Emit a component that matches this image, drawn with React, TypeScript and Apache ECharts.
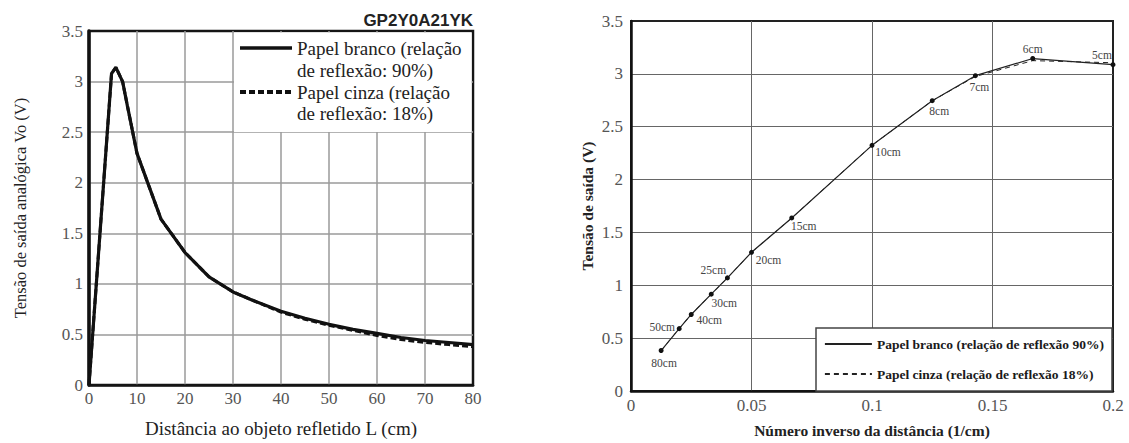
import React, { useEffect, useRef } from "react";
import * as echarts from "echarts";

// ---------- Left chart: distance (cm) vs analog output voltage (V) ----------
const distanceCm = [0, 4.7, 5.6, 7, 8, 10, 15, 20, 25, 30, 35, 40, 45, 50, 55, 60, 65, 70, 75, 80];
const whiteVoltage = [0, 3.08, 3.14, 3.0, 2.76, 2.29, 1.64, 1.31, 1.07, 0.92, 0.82, 0.73, 0.66, 0.6, 0.55, 0.51, 0.47, 0.44, 0.42, 0.4];
const grayVoltage = [0, 3.08, 3.14, 3.0, 2.76, 2.29, 1.64, 1.31, 1.07, 0.92, 0.82, 0.72, 0.65, 0.59, 0.54, 0.49, 0.45, 0.42, 0.4, 0.38];
const leftTitle = "GP2Y0A21YK";
const leftLegendWhite = ["Papel branco (relação", "de reflexão: 90%)"];
const leftLegendGray = ["Papel cinza (relação", "de reflexão: 18%)"];

// ---------- Right chart: inverse distance (1/cm) vs output voltage (V) ----------
const pointLabels = ["80cm", "50cm", "40cm", "30cm", "25cm", "20cm", "15cm", "10cm", "8cm", "7cm", "6cm", "5cm"];
const inverseDistance = [0.0125, 0.02, 0.025, 0.0333, 0.04, 0.05, 0.0667, 0.1, 0.125, 0.1429, 0.1667, 0.2];
const whitePointV = [0.383, 0.59, 0.724, 0.916, 1.07, 1.312, 1.637, 2.324, 2.746, 2.983, 3.145, 3.087];
const grayPointV = [0.383, 0.59, 0.724, 0.916, 1.07, 1.312, 1.637, 2.324, 2.746, 2.975, 3.125, 3.105];
const rightWhiteName = "Papel branco (relação de reflexão 90%)";
const rightGrayName = "Papel cinza (relação de reflexão 18%)";

// label placement (style, not data)
const labelOffsets = [
  [3, 12], [-17, -2], [18, 6], [13, 9], [-14, -8], [17, 8],
  [12, 8], [16, 7], [7, 10], [4, 11], [0, -10], [-11, -10],
];

const SERIF = "Liberation Serif";
const SANS = "Liberation Sans";

// layout
const L = { left: 89, top: 31, width: 384, height: 355 };
const R = { left: 631, top: 21, width: 482, height: 377 };

export default function App() {
  const ref = useRef<HTMLDivElement>(null);

  useEffect(() => {
    if (!ref.current) return;
    const chart = echarts.init(ref.current, undefined, { renderer: "svg" });

    const leftWhiteData = distanceCm.map((d, i) => [d, whiteVoltage[i]]);
    const leftGrayData = distanceCm.map((d, i) => [d, grayVoltage[i]]);
    const rightWhiteData = inverseDistance.map((x, i) => ({
      value: [x, whitePointV[i]],
      label: { offset: labelOffsets[i] },
    }));
    const rightGrayData = inverseDistance.map((x, i) => [x, grayPointV[i]]);

    const legX = 234;
    const legRight = L.left + L.width - 1.5;
    const legLineX1 = 240;
    const legLineX2 = 292;
    const legTextX = 297;

    const option: any = {
      animation: false,
      backgroundColor: "#fff",
      title: {
        text: leftTitle,
        right: 1129 - (L.left + L.width),
        top: 12,
        padding: 0,
        textStyle: { fontFamily: SANS, fontWeight: "bold", fontSize: 17, color: "#222" },
      },
      grid: [
        {
          left: L.left, top: L.top, width: L.width, height: L.height,
          show: true, borderColor: "#151515", borderWidth: 2.5, backgroundColor: "transparent",
        },
        {
          left: R.left, top: R.top, width: R.width, height: R.height,
          show: true, borderColor: "#222", borderWidth: 2, backgroundColor: "transparent",
        },
      ],
      xAxis: [
        {
          type: "value", gridIndex: 0, min: 0, max: 80, interval: 10,
          name: "Distância ao objeto refletido L (cm)", nameLocation: "middle", nameGap: 34,
          nameTextStyle: { fontFamily: SERIF, fontSize: 19, color: "#222" },
          axisLine: { show: true, lineStyle: { color: "#151515", width: 2.5 } },
          axisTick: { show: false },
          axisLabel: { fontFamily: SERIF, fontSize: 17, color: "#555", margin: 5 },
          splitLine: { show: true, showMinLine: false, showMaxLine: false, lineStyle: { color: "#9a9a9a", width: 1.5 } },
        },
        {
          type: "value", gridIndex: 1, min: 0, max: 0.2, interval: 0.05,
          name: "Número inverso da distância (1/cm)", nameLocation: "middle", nameGap: 31,
          nameTextStyle: { fontFamily: SERIF, fontSize: 15.5, fontWeight: "bold", color: "#222" },
          axisLine: { show: true, lineStyle: { color: "#111", width: 2.5 } },
          axisTick: { show: false },
          axisLabel: { fontFamily: SERIF, fontSize: 17, color: "#555", margin: 6 },
          splitLine: { show: true, showMinLine: false, showMaxLine: false, lineStyle: { color: "#666", width: 1 } },
        },
      ],
      yAxis: [
        {
          type: "value", gridIndex: 0, min: 0, max: 3.5, interval: 0.5,
          name: "Tensão de saída analógica Vo (V)", nameLocation: "middle", nameGap: 60,
          nameTextStyle: { fontFamily: SERIF, fontSize: 16.5, color: "#222" },
          axisLine: { show: true, lineStyle: { color: "#111", width: 3.5 } },
          axisTick: { show: false },
          axisLabel: { fontFamily: SERIF, fontSize: 17, color: "#555", margin: 6 },
          splitLine: { show: true, showMinLine: false, showMaxLine: false, lineStyle: { color: "#9a9a9a", width: 1.5 } },
        },
        {
          type: "value", gridIndex: 1, min: 0, max: 3.5, interval: 0.5,
          name: "Tensão de saída (V)", nameLocation: "middle", nameGap: 36,
          nameTextStyle: { fontFamily: SERIF, fontSize: 15.5, fontWeight: "bold", color: "#222" },
          axisLine: { show: true, lineStyle: { color: "#111", width: 2.5 } },
          axisTick: { show: false },
          axisLabel: { fontFamily: SERIF, fontSize: 17, color: "#555", margin: 8 },
          splitLine: { show: true, showMinLine: false, showMaxLine: false, lineStyle: { color: "#666", width: 1 } },
        },
      ],
      legend: [
        {
          data: [rightWhiteName, rightGrayName],
          orient: "vertical",
          left: 816,
          top: 328,
          backgroundColor: "#fff",
          borderColor: "#444",
          borderWidth: 1.5,
          borderRadius: 0,
          padding: [9, 8, 10, 8],
          itemGap: 16,
          itemWidth: 47,
          itemHeight: 14,
          selectedMode: false,
          itemStyle: { opacity: 0 },
          lineStyle: { width: 1.8 },
          textStyle: { fontFamily: SERIF, fontSize: 13.5, fontWeight: "bold", color: "#1a1a1a" },
        },
      ],
      graphic: [
        {
          type: "rect",
          z: 1,
          shape: { x: legX, y: L.top + 1.5, width: legRight - legX, height: 132 - (L.top + 1.5) },
          style: { fill: "#fff" },
        },
        {
          type: "line", z: 5,
          shape: { x1: legLineX1, y1: 48, x2: legLineX2, y2: 48 },
          style: { stroke: "#111", lineWidth: 3.5 },
        },
        {
          type: "line", z: 5,
          shape: { x1: legLineX1, y1: 92, x2: legLineX2, y2: 92 },
          style: { stroke: "#111", lineWidth: 4, lineDash: [6, 3] },
        },
        ...[
          [leftLegendWhite[0], 48], [leftLegendWhite[1], 70],
          [leftLegendGray[0], 92], [leftLegendGray[1], 113],
        ].map(([t, y]) => ({
          type: "text", z: 5, x: legTextX, y: y as number,
          style: {
            text: t as string, fontFamily: SERIF, fontSize: 19, fill: "#222",
            textAlign: "left", textVerticalAlign: "middle",
          },
        })),
      ],
      series: [
        {
          name: "Papel cinza (relação de reflexão: 18%)",
          type: "line", xAxisIndex: 0, yAxisIndex: 0,
          data: leftGrayData, symbol: "none", z: 3,
          lineStyle: { color: "#111", width: 3, type: [6, 3] },
        },
        {
          name: "Papel branco (relação de reflexão: 90%)",
          type: "line", xAxisIndex: 0, yAxisIndex: 0,
          data: leftWhiteData, symbol: "none", z: 4,
          lineStyle: { color: "#111", width: 3.2 },
        },
        {
          name: rightGrayName,
          type: "line", xAxisIndex: 1, yAxisIndex: 1,
          data: rightGrayData, symbol: "none", z: 3,
          color: "#222",
          lineStyle: { color: "#222", width: 1, type: [5, 4] },
        },
        {
          name: rightWhiteName,
          type: "line", xAxisIndex: 1, yAxisIndex: 1,
          data: rightWhiteData, symbol: "circle", symbolSize: 5, z: 4,
          color: "#111",
          itemStyle: { color: "#111" },
          lineStyle: { color: "#222", width: 1.2 },
          label: {
            show: true,
            position: "inside",
            formatter: (p: any) => pointLabels[p.dataIndex],
            fontFamily: SERIF, fontSize: 11.5, color: "#444",
          },
        },
      ],
    };

    chart.setOption(option);
    return () => chart.dispose();
  }, []);

  return (
    <div
      ref={ref}
      style={{ position: "absolute", left: 0, top: 0, width: 1129, height: 443, background: "#fff" }}
    />
  );
}
